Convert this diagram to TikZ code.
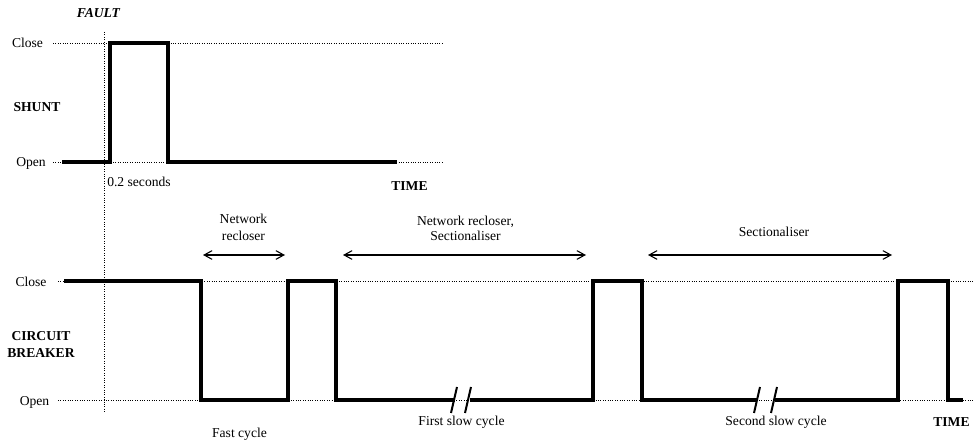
\documentclass[tikz,border=0pt]{standalone}
\usepackage{fontspec}
\setmainfont{Liberation Serif}
\usetikzlibrary{arrows.meta}
\begin{document}
\begin{tikzpicture}[x=0.75pt,y=-0.75pt,
  lbl/.style={inner sep=0pt,anchor=base,font=\fontsize{10.2}{12}\selectfont},
  blbl/.style={inner sep=0pt,anchor=base,font=\fontsize{10.2}{12}\selectfont\bfseries},
  guide/.style={line width=0.7pt,dash pattern=on 0.7pt off 1.1pt},
  wavepath/.style={line width=2.4pt,line join=miter,line cap=butt},
  brk/.style={line width=1.5pt},
  spanarrow/.style={line width=0.8pt,{Straight Barb[length=6pt,width=6.5pt]}-{Straight Barb[length=6pt,width=6.5pt]}}]
\useasboundingbox (0,0) rectangle (974,441);

% ---------- top panel: SHUNT ----------
\node[blbl,font=\fontsize{10.2}{12}\selectfont\bfseries\itshape] (fault) at (98.5,18) {FAULT};
\node[lbl] (closeA) at (27.5,48) {Close};
\node[blbl] (shunt) at (37,112) {SHUNT};
\node[lbl] (openA) at (31,167) {Open};
\node[lbl,anchor=base west] (sec) at (107,187) {0.2 seconds};
\node[blbl] (timeA) at (409.5,191) {TIME};

\draw[guide] (53,43) -- (442,43);
\draw[guide] (53,162) -- (442,162);
\draw[guide] (104,32) -- (104,413);

\draw[wavepath] (62,162) -- (110,162) -- (110,43) -- (168,43) -- (168,162) -- (397,162);

% ---------- bottom panel: CIRCUIT BREAKER ----------
\node[lbl] (closeB) at (31,287) {Close};
\node[blbl] (cb1) at (41,341) {CIRCUIT};
\node[blbl] (cb2) at (41,358) {BREAKER};
\node[lbl] (openB) at (34.5,406) {Open};

\draw[guide] (58,281) -- (974,281);
\draw[guide] (58,400) -- (974,400);

\draw[wavepath] (64,281) -- (201,281) -- (201,400) -- (288,400) -- (288,281)
  -- (336,281) -- (336,400) -- (455,400);
\draw[wavepath] (470,400) -- (593,400) -- (593,281) -- (642,281) -- (642,400) -- (757,400);
\draw[wavepath] (775,400) -- (898,400) -- (898,281) -- (948,281) -- (948,400) -- (963,400);

% breaks
\draw[brk] (451,413) -- (457,387);
\draw[brk] (465,413) -- (471,387);
\draw[brk] (754,413) -- (760,387);
\draw[brk] (771,413) -- (777,387);

% spans
\coordinate (a1) at (203,255); \coordinate (a2) at (285,255);
\coordinate (b1) at (343,255); \coordinate (b2) at (586,255);
\coordinate (c1) at (648,255); \coordinate (c2) at (892,255);
\draw[spanarrow] (a1) -- (a2);
\draw[spanarrow] (b1) -- (b2);
\draw[spanarrow] (c1) -- (c2);

\node[lbl] (nr1) at (243.5,224) {Network};
\node[lbl] (nr2) at (243.5,241) {recloser};
\node[lbl] (ns1) at (465.5,226) {Network recloser,};
\node[lbl] (ns2) at (465.5,241) {Sectionaliser};
\node[lbl] (s1) at (774,237) {Sectionaliser};

\node[lbl] (fast) at (239.5,437) {Fast cycle};
\node[lbl] (slow1) at (461.5,425) {First slow cycle};
\node[lbl] (slow2) at (776,425) {Second slow cycle};
\node[blbl] (timeB) at (951.5,426) {TIME};
\end{tikzpicture}
\end{document}
